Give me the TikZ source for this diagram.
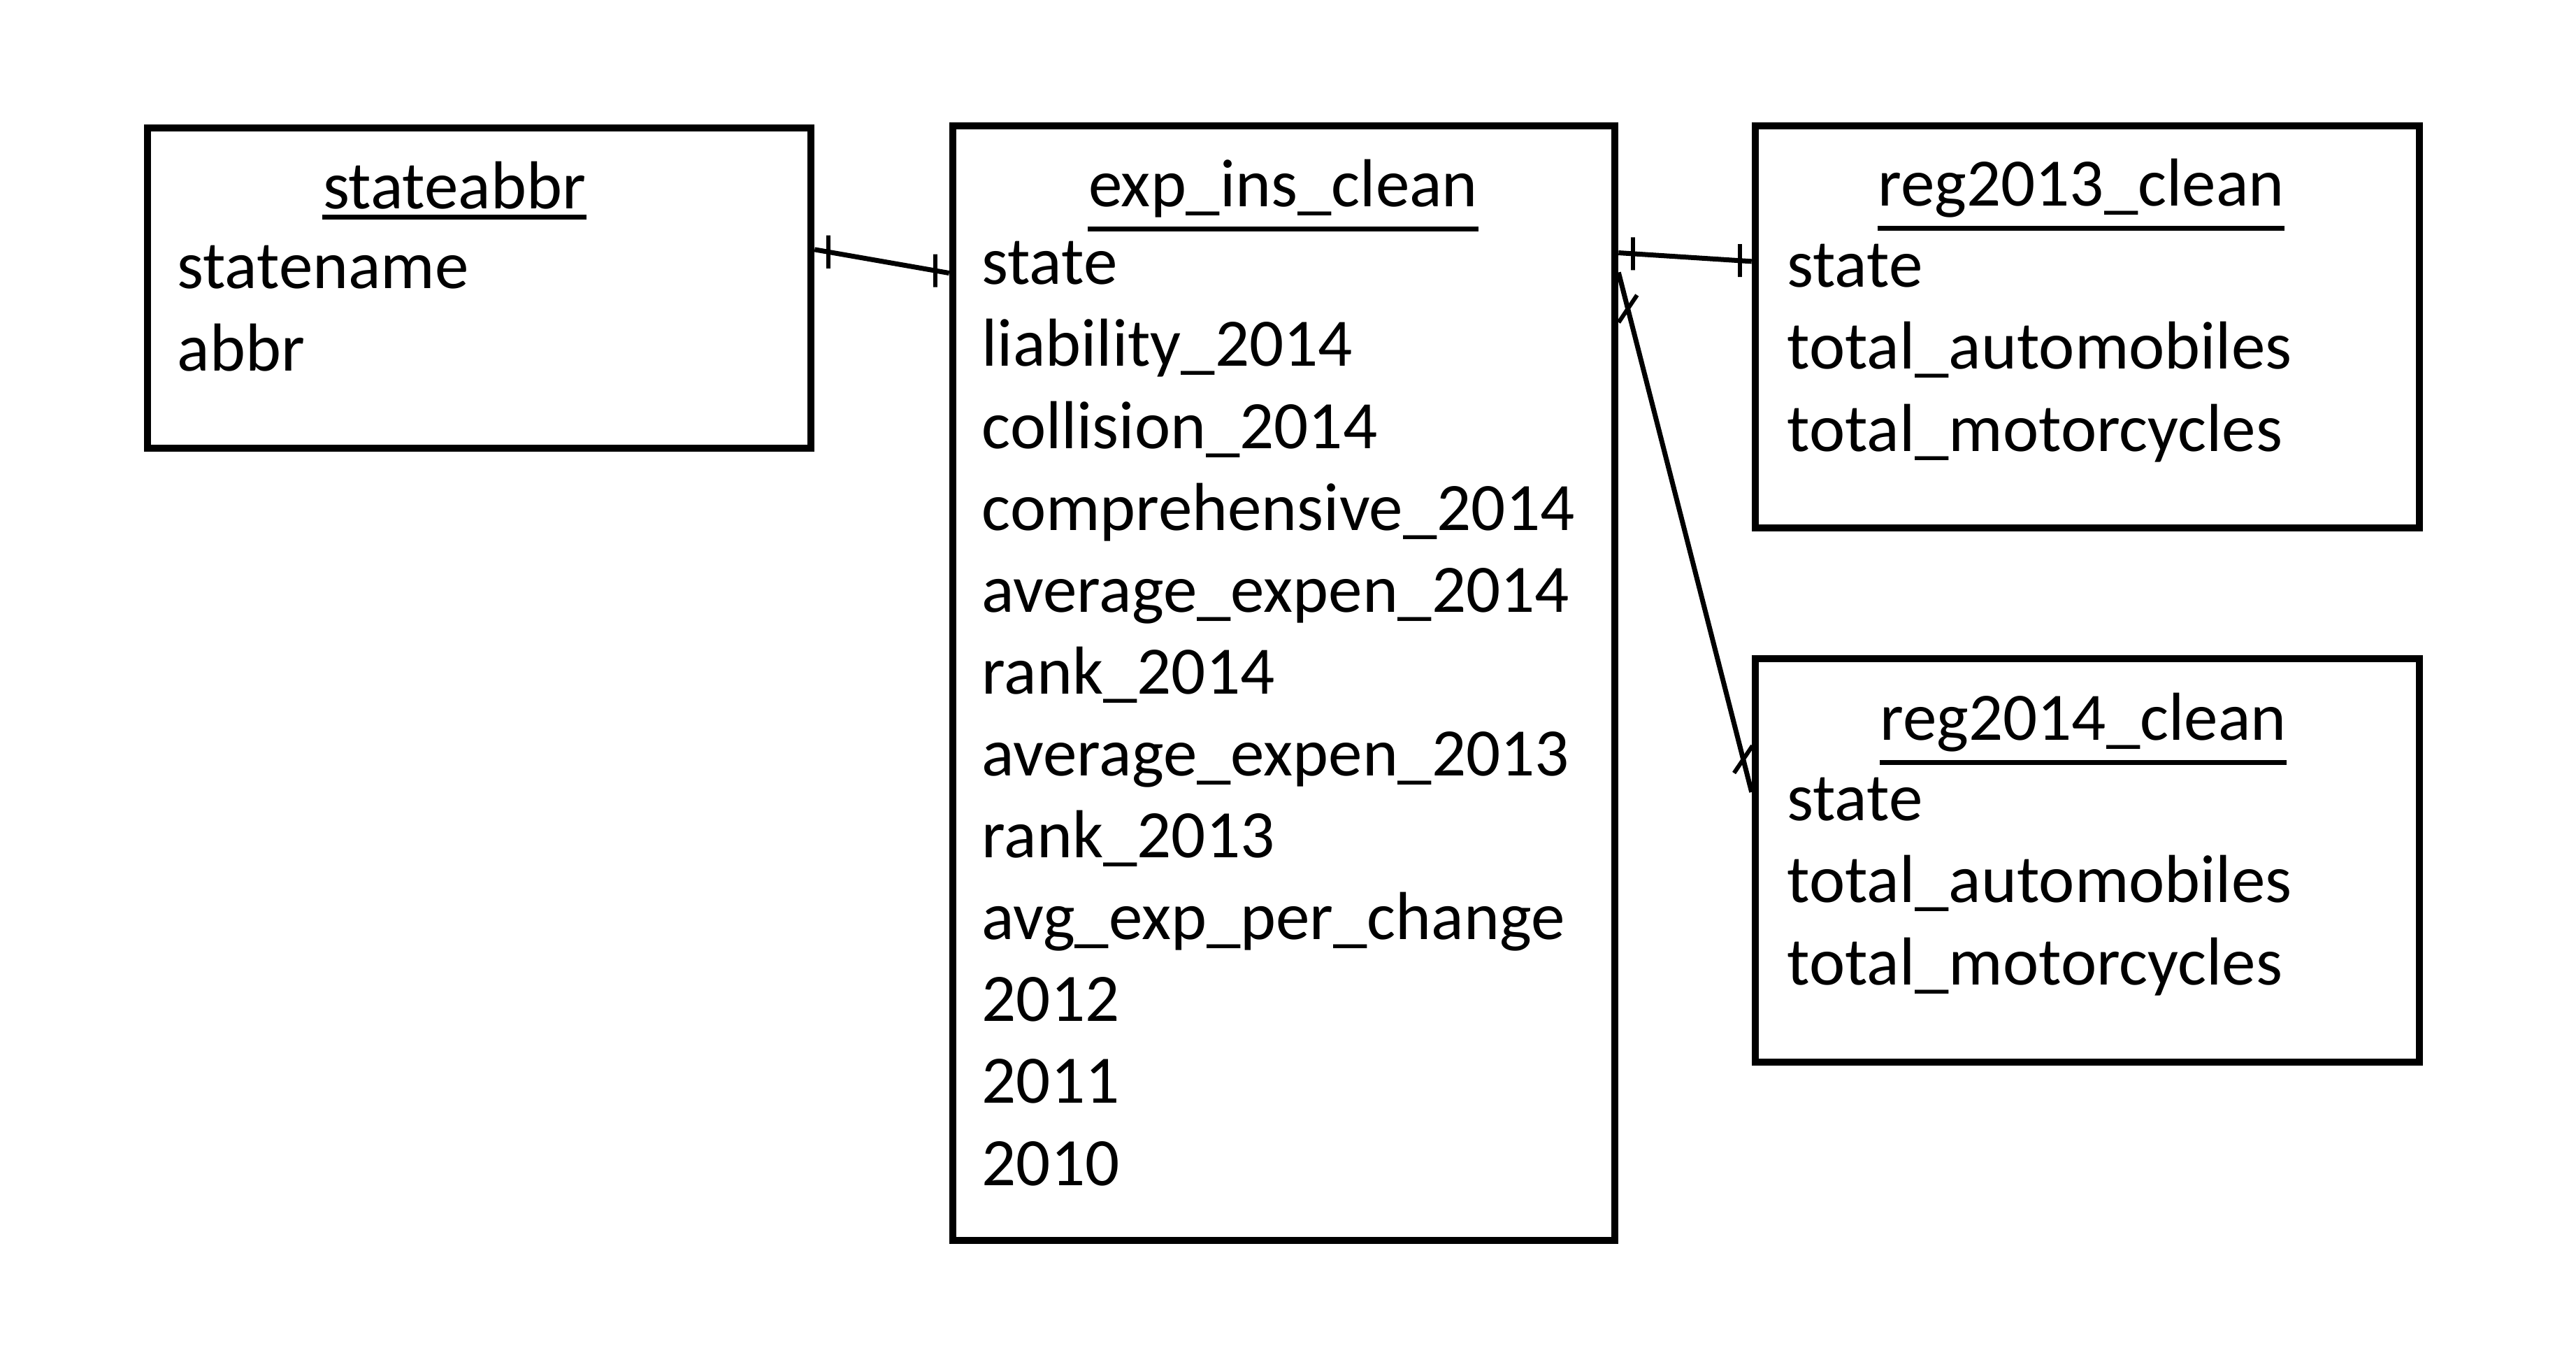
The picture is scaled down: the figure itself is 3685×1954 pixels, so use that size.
\documentclass[tikz,border=0pt]{standalone}
\usepackage{fontspec}
\setmainfont{Carlito}
\usetikzlibrary{calc}
\tikzset{
  tbl/.style={draw, line width=0.1cm, inner sep=0pt},
  tbltitle/.style={inner sep=0pt, anchor=base},
  fields/.style={inner sep=0pt, anchor=base west, align=left},
  uline/.style={line width=0.07cm},
  rel/.style={line width=0.07cm},
  erbar/.style={draw, line width=0.06cm, inner sep=0pt, minimum width=0pt, minimum height=0.47cm},
}
\begin{document}
\begin{tikzpicture}[x=0.01cm, y=-0.01cm, font=\fontsize{27.6pt}{33.3pt}\selectfont]
\useasboundingbox (0,0) rectangle (3685,1954);
% tables
\node[tbl, minimum width=9.49cm, minimum height=4.58cm] (sa) at (685.5,412) {};
\node[tbl, minimum width=9.47cm, minimum height=15.94cm] (exp) at (1836.5,977) {};
\node[tbl, minimum width=9.50cm, minimum height=5.75cm] (r13) at (2986,467.5) {};
\node[tbl, minimum width=9.50cm, minimum height=5.77cm] (r14) at (2986,1230.5) {};
% titles
\node[tbltitle] (sat) at (650,298) {stateabbr};
\node[tbltitle] (expt) at (1835.5,295) {exp\_ins\_clean};
\node[tbltitle] (r13t) at (2977,294) {reg2013\_clean};
\node[tbltitle] (r14t) at (2980,1058) {reg2014\_clean};
\draw[uline] ([yshift=-0.12cm]sat.base west) -- ([yshift=-0.12cm]sat.base east);
\draw[uline] ([yshift=-0.32cm]expt.base west) -- ([yshift=-0.32cm]expt.base east);
\draw[uline] ([yshift=-0.32cm]r13t.base west) -- ([yshift=-0.32cm]r13t.base east);
\draw[uline] ([yshift=-0.32cm]r14t.base west) -- ([yshift=-0.32cm]r14t.base east);
% fields (placed by the baseline of their last line)
\node[fields] (saf) at (253,530) {statename\\abbr};
\node[fields] (expf) at (1404,1695) {state\\liability\_2014\\collision\_2014\\comprehensive\_2014\\average\_expen\_2014\\rank\_2014\\average\_expen\_2013\\rank\_2013\\avg\_exp\_per\_change\\2012\\2011\\2010};
\node[fields] (r13f) at (2556,645) {state\\total\_automobiles\\total\_motorcycles};
\node[fields] (r14f) at (2556,1408) {state\\total\_automobiles\\total\_motorcycles};
% relations
\draw[rel] ($(sa.north east)+(0,179)$) -- ($(exp.north west)+(0,216)$)
  node[erbar, pos=0.1] (b1) {} node[erbar, pos=0.9] (b2) {};
\draw[rel] ($(exp.north east)+(0,187)$) -- ($(r13.north west)+(0,199)$)
  node[erbar, pos=0.11] (b3) {} node[erbar, pos=0.91] (b4) {};
\draw[rel] ($(exp.north east)+(0,215)$) -- ($(r14.north west)+(0,196)$)
  node[erbar, rotate=-34, pos=0.07] (b5) {} node[erbar, rotate=-34, pos=0.937] (b6) {};
\end{tikzpicture}
\end{document}
